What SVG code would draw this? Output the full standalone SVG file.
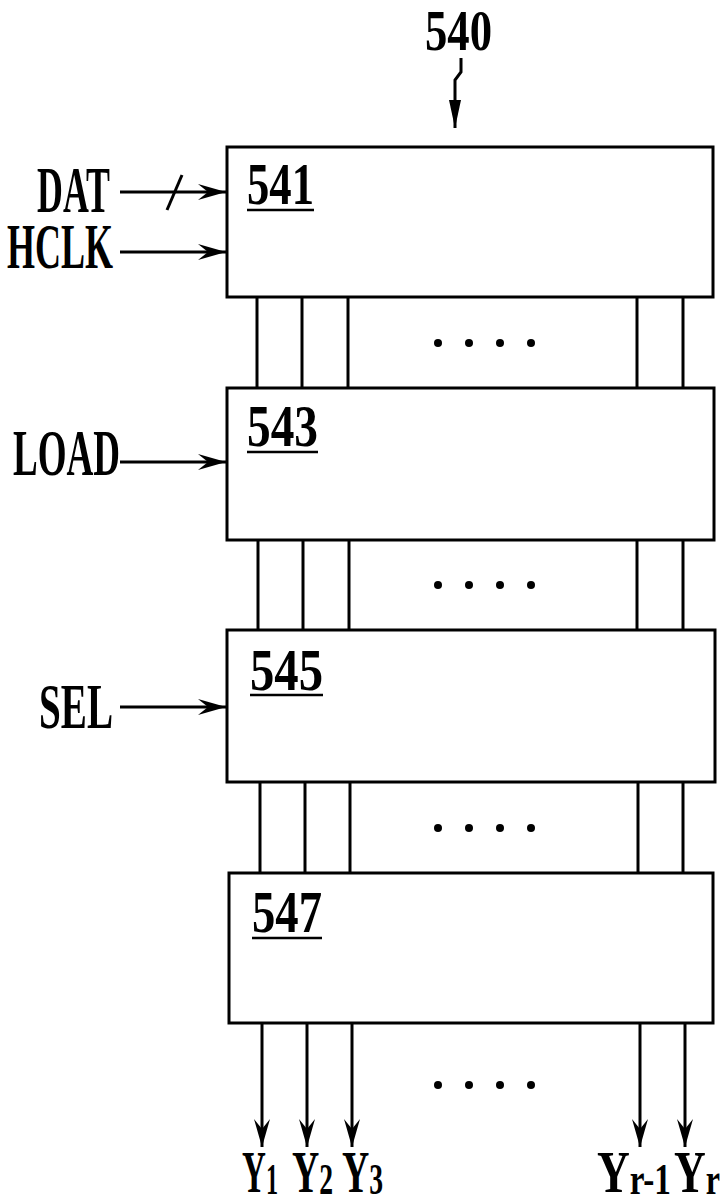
<svg xmlns="http://www.w3.org/2000/svg" width="721" height="1201" viewBox="0 0 721 1201">
<style>
.box{fill:#fff;stroke:#000;stroke-width:3}
.ln{fill:none;stroke:#000;stroke-width:3}
.t{font-family:"Liberation Serif","Times New Roman",serif;font-weight:bold;fill:#000}
.ul{stroke:#000;stroke-width:2.5}
.dot{fill:#000}
</style>
<defs>
<marker id="ah" markerUnits="userSpaceOnUse" markerWidth="40" markerHeight="24" viewBox="-30 -12 32 24" refX="0" refY="0" orient="auto">
<path d="M0,0 L-28,-8 L-18,0 L-28,8 Z" fill="#000"/>
</marker>
<marker id="ah2" markerUnits="userSpaceOnUse" markerWidth="40" markerHeight="24" viewBox="-30 -12 32 24" refX="0" refY="0" orient="auto">
<path d="M0,0 L-28,-6 L-28,6 Z" fill="#000"/>
</marker>
</defs>

<g id="title">
<text class="t" x="425" y="50" font-size="56" textLength="67" lengthAdjust="spacingAndGlyphs">540</text>
</g>

<g id="connectors">
<path class="ln" d="M461,58 V72 L455,80 V128" marker-end="url(#ah2)"/>
<line class="ln" x1="120" y1="192" x2="226" y2="192" marker-end="url(#ah)"/>
<line class="ln" x1="167" y1="210" x2="182" y2="175"/>
<line class="ln" x1="120" y1="252" x2="226" y2="252" marker-end="url(#ah)"/>
<line class="ln" x1="120" y1="462" x2="226" y2="462" marker-end="url(#ah)"/>
<line class="ln" x1="120" y1="707" x2="226" y2="707" marker-end="url(#ah)"/>
<line class="ln" x1="257" y1="297" x2="257" y2="388"/>
<line class="ln" x1="302" y1="297" x2="302" y2="388"/>
<line class="ln" x1="348" y1="297" x2="348" y2="388"/>
<line class="ln" x1="637" y1="297" x2="637" y2="388"/>
<line class="ln" x1="683" y1="297" x2="683" y2="388"/>
<line class="ln" x1="258" y1="540" x2="258" y2="630"/>
<line class="ln" x1="303" y1="540" x2="303" y2="630"/>
<line class="ln" x1="349" y1="540" x2="349" y2="630"/>
<line class="ln" x1="637" y1="540" x2="637" y2="630"/>
<line class="ln" x1="683" y1="540" x2="683" y2="630"/>
<line class="ln" x1="260" y1="782" x2="260" y2="873"/>
<line class="ln" x1="305" y1="782" x2="305" y2="873"/>
<line class="ln" x1="350" y1="782" x2="350" y2="873"/>
<line class="ln" x1="638" y1="782" x2="638" y2="873"/>
<line class="ln" x1="683" y1="782" x2="683" y2="873"/>
<line class="ln" x1="262" y1="1023" x2="262" y2="1147" marker-end="url(#ah)"/>
<line class="ln" x1="307" y1="1023" x2="307" y2="1147" marker-end="url(#ah)"/>
<line class="ln" x1="352" y1="1023" x2="352" y2="1147" marker-end="url(#ah)"/>
<line class="ln" x1="640" y1="1023" x2="640" y2="1147" marker-end="url(#ah)"/>
<line class="ln" x1="685" y1="1023" x2="685" y2="1147" marker-end="url(#ah)"/>
</g>

<g id="dots">
<circle class="dot" cx="438" cy="343" r="4"/><circle class="dot" cx="469" cy="343" r="4"/><circle class="dot" cx="500" cy="343" r="4"/><circle class="dot" cx="531" cy="343" r="4"/>
<circle class="dot" cx="438" cy="585" r="4"/><circle class="dot" cx="469" cy="585" r="4"/><circle class="dot" cx="500" cy="585" r="4"/><circle class="dot" cx="531" cy="585" r="4"/>
<circle class="dot" cx="438" cy="828" r="4"/><circle class="dot" cx="469" cy="828" r="4"/><circle class="dot" cx="500" cy="828" r="4"/><circle class="dot" cx="531" cy="828" r="4"/>
<circle class="dot" cx="438" cy="1085" r="4"/><circle class="dot" cx="469" cy="1085" r="4"/><circle class="dot" cx="500" cy="1085" r="4"/><circle class="dot" cx="531" cy="1085" r="4"/>
</g>

<g id="box541">
<rect class="box" x="227" y="147" width="486" height="150"/>
<text class="t" x="247" y="204" font-size="60" textLength="67" lengthAdjust="spacingAndGlyphs">541</text>
<line class="ul" x1="247" y1="210" x2="314" y2="210"/>
</g>
<g id="box543">
<rect class="box" x="227" y="388" width="487" height="152"/>
<text class="t" x="247" y="446" font-size="60" textLength="71" lengthAdjust="spacingAndGlyphs">543</text>
<line class="ul" x1="247" y1="452" x2="318" y2="452"/>
</g>
<g id="box545">
<rect class="box" x="227" y="630" width="488" height="152"/>
<text class="t" x="250" y="690" font-size="60" textLength="73" lengthAdjust="spacingAndGlyphs">545</text>
<line class="ul" x1="250" y1="695" x2="323" y2="695"/>
</g>
<g id="box547">
<rect class="box" x="229" y="873" width="484" height="150"/>
<text class="t" x="252" y="932" font-size="60" textLength="70" lengthAdjust="spacingAndGlyphs">547</text>
<line class="ul" x1="252" y1="938" x2="322" y2="938"/>
</g>

<g id="inputs">
<text class="t" x="37" y="212" font-size="66" textLength="73" lengthAdjust="spacingAndGlyphs">DAT</text>
<text class="t" x="7" y="268" font-size="64" textLength="106" lengthAdjust="spacingAndGlyphs">HCLK</text>
<text class="t" x="13" y="475" font-size="66" textLength="107" lengthAdjust="spacingAndGlyphs">LOAD</text>
<text class="t" x="39" y="728" font-size="64" textLength="74" lengthAdjust="spacingAndGlyphs">SEL</text>
</g>

<g id="outputs">
<text class="t" x="242" y="1192" font-size="60" textLength="36" lengthAdjust="spacingAndGlyphs">Y<tspan font-size="44" dy="2">1</tspan></text>
<text class="t" x="292" y="1192" font-size="60" textLength="41" lengthAdjust="spacingAndGlyphs">Y<tspan font-size="44" dy="2">2</tspan></text>
<text class="t" x="342" y="1192" font-size="60" textLength="41" lengthAdjust="spacingAndGlyphs">Y<tspan font-size="44" dy="2">3</tspan></text>
<text class="t" x="597" y="1192" font-size="60" textLength="74" lengthAdjust="spacingAndGlyphs">Y<tspan font-size="44" dy="2">r-1</tspan></text>
<text class="t" x="674" y="1192" font-size="60" textLength="46" lengthAdjust="spacingAndGlyphs">Y<tspan font-size="44" dy="2">r</tspan></text>
</g>
</svg>
